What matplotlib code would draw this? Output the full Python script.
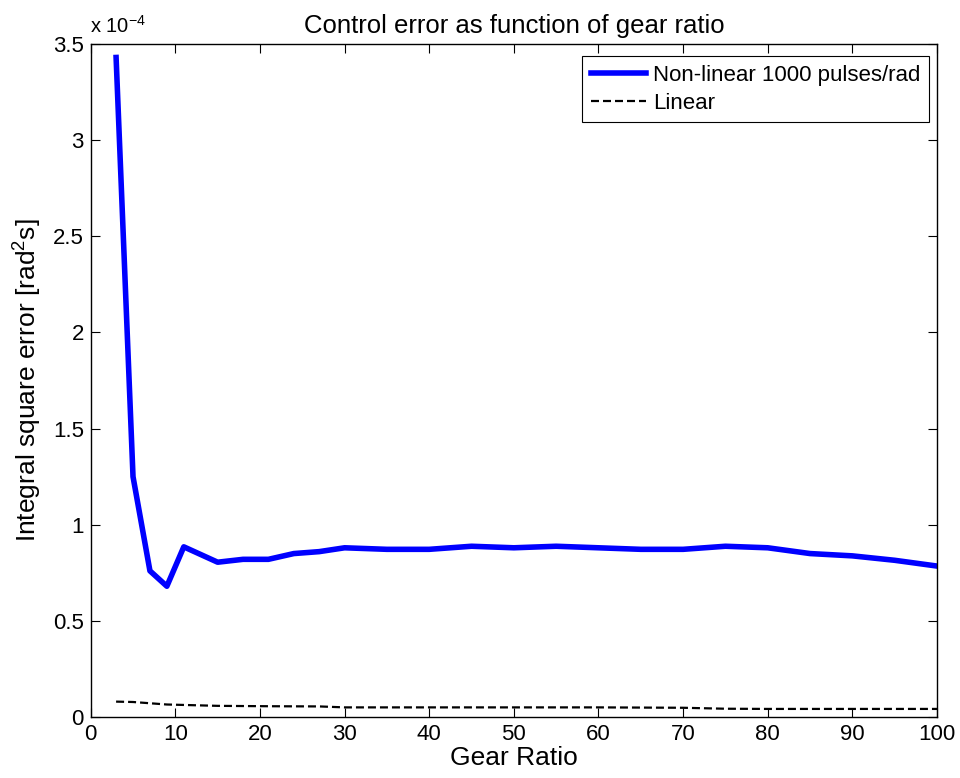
import matplotlib
matplotlib.use("Agg")
import matplotlib.pyplot as plt
import numpy as np

plt.rcParams['font.family'] = ['Liberation Sans', 'DejaVu Sans']
plt.rcParams['mathtext.fontset'] = 'custom'
plt.rcParams['mathtext.rm'] = 'Liberation Sans'
plt.rcParams['mathtext.it'] = 'Liberation Sans:italic'
plt.rcParams['mathtext.bf'] = 'Liberation Sans:bold'

# Gear ratios and integral square error (units of 1e-4 rad^2 s)
gear_nl = [3, 5, 7, 9, 11, 15, 18, 21, 24, 27, 30, 35, 40, 45, 50, 55, 60,
           65, 70, 75, 80, 85, 90, 95, 100]
ise_nl = [3.43, 1.25, 0.76, 0.68, 0.885, 0.805, 0.82, 0.82, 0.85, 0.86, 0.88,
          0.872, 0.872, 0.888, 0.88, 0.888, 0.88, 0.872, 0.872, 0.888, 0.88,
          0.85, 0.838, 0.815, 0.785]

gear_lin = [3, 5, 9, 15, 21, 27, 30, 40, 50, 60, 70, 75, 80, 90, 100]
ise_lin = [0.08, 0.078, 0.065, 0.058, 0.056, 0.055, 0.05, 0.05, 0.05, 0.05,
           0.048, 0.043, 0.042, 0.042, 0.042]

scale = 1e-4
W, H = 960, 778

fig = plt.figure(figsize=(W / 100, H / 100), dpi=100)
ax = fig.add_axes([90.7 / W, 1 - 717 / H, (937 - 90.7) / W, (717 - 44) / H])

ax.plot(gear_nl, np.array(ise_nl) * scale, color='#0000ff', lw=4,
        label='Non-linear 1000 pulses/rad')
ax.plot(gear_lin, np.array(ise_lin) * scale, color='black', lw=1.6,
        ls=(0, (3.6, 1.8)), label='Linear')

ax.set_xlim(0, 100)
ax.set_ylim(0, 3.5e-4)
ax.set_xticks(np.arange(0, 101, 10))
yt = np.arange(0, 3.51, 0.5)
ax.set_yticks(yt * scale)
ax.set_yticklabels([f'{v:g}' for v in yt])

ax.tick_params(direction='in', top=True, right=True, labelsize=16,
               length=6.5, width=0.8, pad=5)
for s in ax.spines.values():
    s.set_linewidth(1.0)

# exponent multiplier above the y axis
fig.text(90 / W, 1 - 33 / H, r'x 10$^{-4}$', fontsize=14.5,
         ha='left', va='baseline')

ax.set_title('Control error as function of gear ratio', fontsize=18.5, pad=8)
ax.set_xlabel('Gear Ratio', fontsize=19, labelpad=1)
ax.set_ylabel(r'Integral square error [rad$^2$s]', fontsize=19, labelpad=6)

leg = ax.legend(loc='upper right', fontsize=16, fancybox=False,
                edgecolor='black', framealpha=1, handlelength=2.5,
                handletextpad=0.3, labelspacing=0.3, borderpad=0.4,
                bbox_to_anchor=(929 / W, 1 - 56 / H),
                bbox_transform=fig.transFigure, borderaxespad=0)
leg.get_frame().set_linewidth(0.8)

fig.savefig('out.png', dpi=100, facecolor='white')
